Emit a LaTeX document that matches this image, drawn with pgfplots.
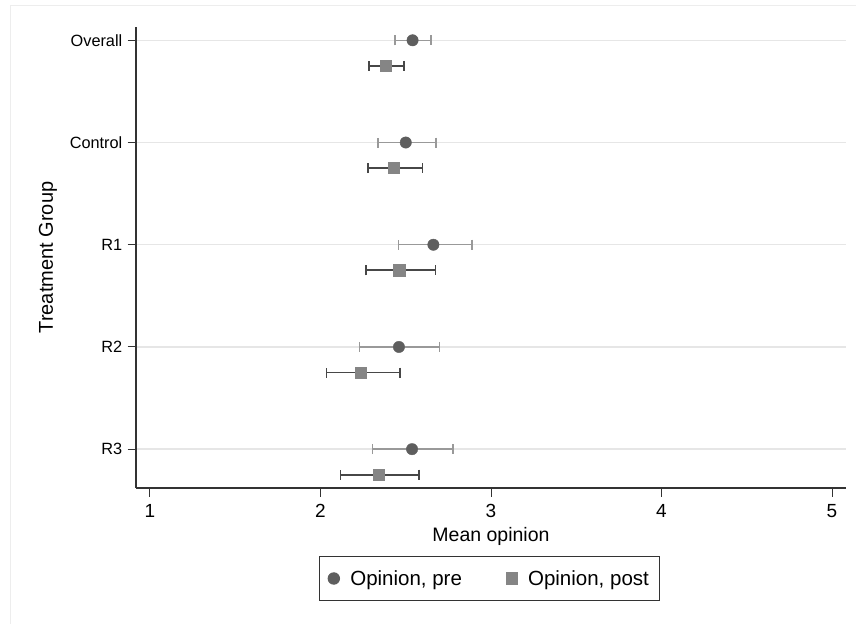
\documentclass[border=0pt]{standalone}
\usepackage{fontspec}
\setmainfont{Liberation Sans}
\usepackage{pgfplots}
\pgfplotsset{compat=1.18}
\usepackage{pgfplotstable}
\definecolor{premark}{HTML}{5E5E5E}
\definecolor{preci}{HTML}{999999}
\definecolor{postmark}{HTML}{858585}
\definecolor{postci}{HTML}{474747}
\definecolor{gridc}{HTML}{E6E6E6}
\definecolor{axc}{HTML}{333333}
\pgfplotstableread{
y    x      lo     hi
1    2.540  2.437  2.648
2    2.500  2.337  2.677
3    2.662  2.459  2.889
4    2.460  2.228  2.699
5    2.537  2.304  2.777
}\pretable
\pgfplotstableread{
y    x      lo     hi
1.25 2.382  2.286  2.490
2.25 2.431  2.277  2.599
3.25 2.462  2.267  2.675
4.25 2.237  2.036  2.468
5.25 2.341  2.118  2.576
}\posttable
\begin{document}
\begin{tikzpicture}
\useasboundingbox (0,0) rectangle (856pt,624pt);
\fill[white] (0,0) rectangle (856pt,624pt);
\draw[color=black!7, line width=0.8pt] (10.5pt,0) -- (10.5pt,619pt) -- (856pt,619pt);
\begin{axis}[
  at={(136pt,136pt)}, anchor=south west,
  scale only axis, width=710pt, height=461pt,
  xmin=0.918, xmax=5.082,
  ymin=0.87, ymax=5.38, y dir=reverse,
  axis x line*=bottom, axis y line*=left,
  axis line style={color=axc, line width=1.1pt, -},
  xtick={1,2,3,4,5},
  ytick={1,2,3,4,5},
  yticklabels={Overall,Control,R1,R2,R3},
  tick align=outside,
  major tick length=8.5pt,
  tick style={color=axc, line width=1pt},
  ymajorgrids, grid style={color=gridc, line width=1.4pt},
  /pgf/number format/assume math mode=true,
  xticklabel style={font=\fontsize{19}{22}\selectfont, inner sep=1pt, yshift=-7pt},
  yticklabel style={font=\fontsize{16.3}{19}\selectfont, inner sep=1pt, xshift=-4pt},
  xlabel={Mean opinion},
  ylabel={Treatment Group},
  xlabel style={font=\fontsize{19.5}{22}\selectfont, at={(axis description cs:0.5,0)}, anchor=center, yshift=-48.7pt},
  ylabel style={font=\fontsize{20}{23}\selectfont, at={(axis description cs:0,0.5)}, anchor=center, yshift=88pt},
  legend columns=2,
  legend image code/.code={\path (0pt,-6pt) (17pt,6pt); \draw[#1] plot coordinates {(3pt,0pt)};},
  legend style={at={(0.4979,-0.1963)}, anchor=center, draw=axc, line width=1pt,
    font=\fontsize{20.5}{23}\selectfont, inner xsep=9pt, inner ysep=11.5pt,
    /tikz/every even column/.append style={column sep=42pt}},
  legend cell align=left,
  clip=false,
]
\addplot[only marks, mark=*, mark size=5.7pt, color=premark,
  error bars/.cd, x dir=both, x explicit, error mark=|,
  error bar style={color=preci, line width=1.5pt},
  error mark options={color=preci, line width=1.4pt, mark size=5pt}]
  table[x=x, y=y, x error plus expr=\thisrow{hi}-\thisrow{x}, x error minus expr=\thisrow{x}-\thisrow{lo}] {\pretable};
\addlegendentry{Opinion, pre}
\addplot[only marks, mark=square*, mark size=5.6pt, color=postmark,
  error bars/.cd, x dir=both, x explicit, error mark=|,
  error bar style={color=postci, line width=1.8pt},
  error mark options={color=postci, line width=1.7pt, mark size=5pt}]
  table[x=x, y=y, x error plus expr=\thisrow{hi}-\thisrow{x}, x error minus expr=\thisrow{x}-\thisrow{lo}] {\posttable};
\addlegendentry{Opinion, post\hspace{16pt}}
\end{axis}
\end{tikzpicture}
\end{document}
